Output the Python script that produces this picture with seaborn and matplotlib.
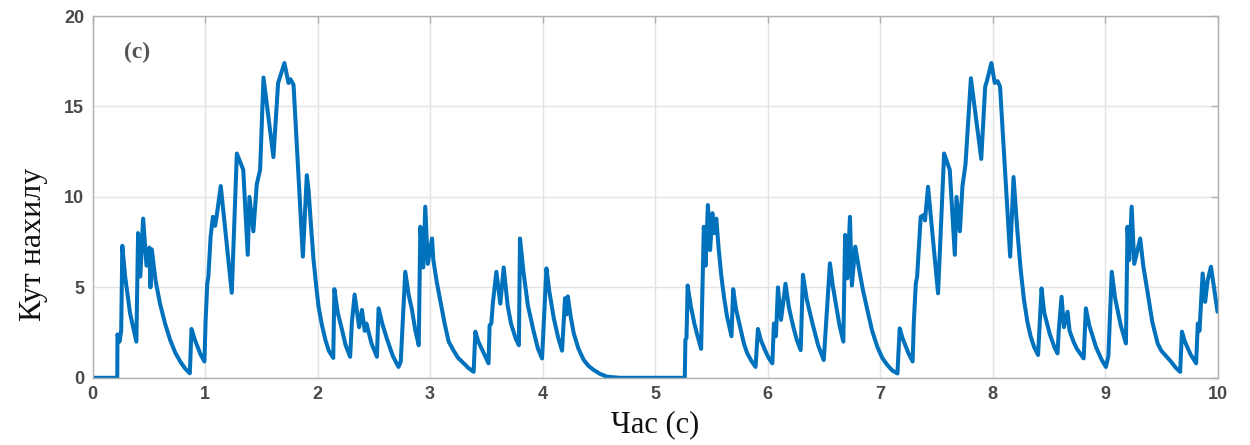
import matplotlib
matplotlib.use("Agg")
import matplotlib.pyplot as plt
import seaborn as sns
import pandas as pd

# === Data (time in s, tilt angle) ===
time_s = [
    0.0, 0.22, 0.222, 0.24, 0.255, 0.265, 0.29, 0.334, 0.39,
    0.405, 0.425, 0.45, 0.48, 0.505, 0.515, 0.527, 0.56, 0.60, 0.645, 0.69, 0.735, 0.78, 0.825, 0.865,
    0.88, 0.91, 0.96, 0.995,
    1.005, 1.02, 1.03, 1.05, 1.07, 1.09, 1.105, 1.14, 1.238, 1.283, 1.34, 1.38, 1.395, 1.43, 1.46,
    1.49, 1.52, 1.608, 1.65, 1.706, 1.742, 1.76, 1.787, 1.87, 1.905, 1.92, 1.94, 1.965, 1.99, 2.01,
    2.04, 2.07, 2.10, 2.14,
    2.15, 2.18, 2.22, 2.25, 2.29,
    2.306, 2.33, 2.37, 2.395, 2.42, 2.435, 2.48, 2.528,
    2.543, 2.58, 2.62, 2.67, 2.72, 2.74,
    2.78, 2.81, 2.84, 2.87, 2.90,
    2.914, 2.94, 2.958, 2.98, 3.018, 3.03, 3.06, 3.09, 3.13, 3.166, 3.21, 3.25, 3.30, 3.34, 3.388,
    3.403, 3.43, 3.46, 3.49, 3.52,
    3.53, 3.545, 3.56, 3.59, 3.625, 3.655, 3.69, 3.72, 3.76, 3.79,
    3.80, 3.83, 3.87, 3.92, 3.96, 3.996,
    4.035, 4.06, 4.10, 4.14, 4.174,
    4.20, 4.212, 4.225, 4.25, 4.278, 4.32, 4.367, 4.41, 4.456, 4.51, 4.575, 4.69,
    5.265, 5.27, 5.28, 5.29, 5.32, 5.35, 5.37, 5.41,
    5.434, 5.45, 5.47, 5.49, 5.51, 5.525, 5.545, 5.565, 5.59, 5.615, 5.64, 5.68,
    5.695, 5.72, 5.76, 5.79, 5.82, 5.86, 5.894,
    5.915, 5.94, 5.98, 6.01, 6.043,
    6.057, 6.075, 6.093, 6.12, 6.16, 6.19, 6.23, 6.26, 6.295,
    6.315, 6.35, 6.40, 6.45, 6.50,
    6.555, 6.58, 6.61, 6.64, 6.674,
    6.69, 6.71, 6.733, 6.75, 6.78, 6.82, 6.85, 6.888, 6.93, 6.977, 7.02, 7.066, 7.11, 7.155,
    7.175, 7.20, 7.25, 7.29,
    7.30, 7.318, 7.33, 7.362, 7.39, 7.40, 7.427, 7.516, 7.57, 7.62, 7.665, 7.68, 7.71, 7.733, 7.76,
    7.808, 7.90, 7.935, 7.95, 7.99, 8.02, 8.045, 8.067, 8.157, 8.187, 8.22, 8.25, 8.28, 8.31, 8.34,
    8.37, 8.405,
    8.436, 8.46, 8.51, 8.55, 8.578,
    8.59, 8.614, 8.635, 8.667, 8.685, 8.72, 8.75, 8.81,
    8.83, 8.86, 8.92, 8.97, 9.008, 9.03,
    9.06, 9.09, 9.14, 9.186,
    9.20, 9.215, 9.237, 9.26, 9.313, 9.34, 9.38, 9.42, 9.468, 9.50, 9.586, 9.63, 9.668,
    9.684, 9.71, 9.76, 9.81,
    9.825, 9.84, 9.868, 9.89, 9.913, 9.942, 10.0,
]
tilt_angle = [
    0.0, 0.0, 2.4, 2.0, 2.6, 7.3, 5.6, 3.56, 2.0,
    8.0, 5.6, 8.8, 6.2, 7.2, 5.0, 7.1, 5.4, 4.1, 3.0, 2.1, 1.4, 0.9, 0.5, 0.25,
    2.7, 2.1, 1.3, 0.9,
    3.1, 5.2, 5.6, 7.8, 8.9, 8.4, 9.0, 10.6, 4.7, 12.4, 11.5, 6.8, 10.0, 8.1, 10.7,
    11.5, 16.6, 12.2, 16.3, 17.4, 16.3, 16.5, 16.2, 6.7, 11.2, 10.4, 8.6, 6.5, 5.0, 3.9,
    2.9, 2.1, 1.5, 1.1,
    4.9, 3.6, 2.6, 1.8, 1.16,
    3.1, 4.6, 2.8, 3.75, 2.6, 3.0, 1.9, 1.16,
    3.84, 2.9, 2.1, 1.2, 0.6, 0.9,
    5.86, 4.6, 3.75, 2.6, 1.8,
    8.35, 6.1, 9.46, 6.3, 7.7, 6.5, 5.3, 4.3, 3.0, 2.0, 1.5, 1.1, 0.8, 0.55, 0.33,
    2.55, 2.0, 1.6, 1.2, 0.8,
    2.9, 3.0, 4.2, 5.86, 4.1, 6.1, 4.0, 3.0, 2.2, 1.8,
    7.7, 5.9, 4.0, 2.6, 1.6, 1.07,
    6.05, 4.8, 3.3, 2.2, 1.5,
    4.4, 3.5, 4.5, 3.4, 2.45, 1.6, 0.98, 0.65, 0.43, 0.22, 0.06, 0.0,
    0.0, 2.1, 2.2, 5.1, 3.9, 3.0, 2.5, 1.6,
    8.35, 6.2, 9.55, 7.06, 9.1, 8.0, 8.8, 7.2, 5.6, 4.4, 3.4, 2.3,
    4.9, 3.8, 2.7, 1.9, 1.35, 0.9, 0.6,
    2.7, 2.1, 1.5, 1.1, 0.8,
    3.0, 2.3, 5.0, 3.2, 5.2, 3.9, 2.8, 2.1, 1.53,
    5.7, 4.3, 3.0, 1.8, 0.98,
    6.33, 5.1, 4.0, 2.9, 2.0,
    7.9, 5.5, 8.9, 5.1, 7.25, 5.8, 4.8, 3.74, 2.6, 1.7, 1.1, 0.7, 0.4, 0.24,
    2.73, 2.2, 1.4, 0.9,
    3.0, 5.2, 5.6, 8.9, 9.0, 8.7, 10.56, 4.67, 12.4, 11.5, 6.8, 10.0, 8.1, 10.6, 11.8,
    16.56, 12.1, 16.1, 16.4, 17.4, 16.3, 16.4, 16.1, 6.7, 11.1, 8.2, 6.0, 4.3, 3.1, 2.27,
    1.7, 1.26,
    4.94, 3.6, 2.4, 1.7, 1.35,
    2.7, 4.48, 2.8, 3.65, 2.6, 2.0, 1.6, 1.07,
    3.84, 2.9, 1.7, 1.0, 0.6, 1.2,
    5.86, 4.4, 2.9, 1.9,
    8.35, 6.5, 9.46, 6.3, 7.7, 6.2, 4.67, 3.1, 1.9, 1.5, 0.9, 0.55, 0.33,
    2.55, 2.0, 1.3, 0.8,
    3.0, 2.6, 5.77, 4.2, 5.4, 6.14, 3.65,
]
x_ticks = [0, 1, 2, 3, 4, 5, 6, 7, 8, 9, 10]
y_ticks = [0, 5, 10, 15, 20]

assert len(time_s) == len(tilt_angle)
df = pd.DataFrame({"t": time_s, "angle": tilt_angle})

sns.set_style("whitegrid")
plt.rcParams["font.family"] = ["Liberation Sans", "DejaVu Sans"]

fig = plt.figure(figsize=(12.5, 4.45), dpi=100)
ax = fig.add_axes([0.074, 0.151, 0.9, 0.813])

sns.lineplot(data=df, x="t", y="angle", ax=ax, color="#0072BD",
             linewidth=2.9, estimator=None, sort=False,
             solid_joinstyle="round", solid_capstyle="round")

ax.set_xlim(0, 10)
ax.set_ylim(0, 20)
ax.set_xticks(x_ticks)
ax.set_yticks(y_ticks)
ax.grid(True, color="#e3e3e3", linewidth=1.0)
for s in ax.spines.values():
    s.set_color("#b0b0b0")
    s.set_linewidth(1.0)
ax.tick_params(direction="in", length=5, width=1, color="#b0b0b0",
               top=True, right=True, labelsize=13, labelcolor="#4a4a4a", pad=6)
for lab in ax.get_xticklabels() + ax.get_yticklabels():
    lab.set_fontweight("bold")

serif = ["Liberation Serif", "DejaVu Serif"]
ax.set_xlabel("Час (с)", family=serif, fontsize=22, color="#111111", labelpad=5)
ax.set_ylabel("Кут нахилу", family=serif, fontsize=23, color="#111111")
ax.yaxis.set_label_coords(-0.040, 0.37)
ax.text(0.028, 0.9, "(c)", transform=ax.transAxes, family=serif,
        fontsize=17, fontweight="bold", color="#555555", va="center")

fig.savefig("out.png", dpi=100)
